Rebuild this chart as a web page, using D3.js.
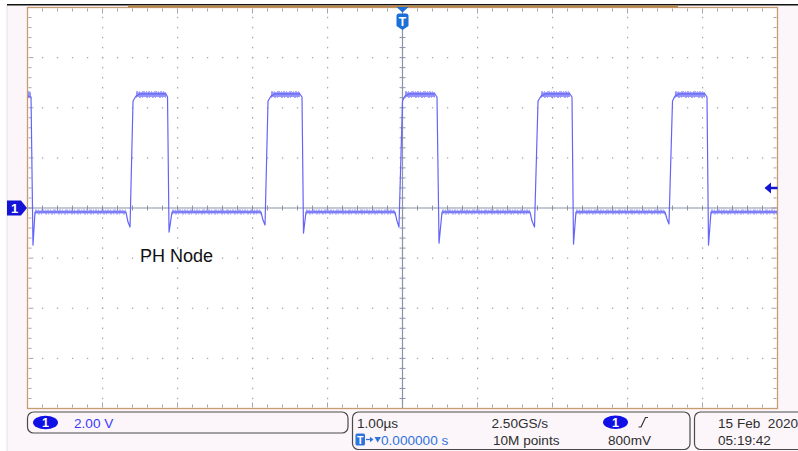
<!DOCTYPE html>
<html>
<head>
<meta charset="utf-8">
<script src="https://cdn.jsdelivr.net/npm/d3@7/dist/d3.min.js"></script>
<style>
  html, body { margin: 0; padding: 0; background: #ffffff; }
  svg { display: block; }
  text { font-family: "Liberation Sans", Arial, sans-serif; white-space: pre; }
</style>
</head>
<body>
<svg id="scope" width="798" height="451"></svg>
<script>
// ---- Channel 1 (PH node) trace: time in µs, voltage in V ----
const traceT = [
  -4.993, -4.953, -4.927, -4.900,
  -3.687, -3.660, -3.633, -3.593, -3.553, -3.500, -3.153, -3.133, -3.113, -3.073,
  -1.887, -1.860, -1.833, -1.793, -1.753, -1.700, -1.367, -1.340, -1.320, -1.287,
  -0.100, -0.073, -0.047,  0.000,  0.033,  0.087,  0.433,  0.460,  0.487,  0.527,
   1.700,  1.727,  1.760,  1.807,  1.847,  1.900,  2.233,  2.260,  2.280,  2.313,
   3.500,  3.527,  3.553,  3.600,  3.633,  3.687,  4.033,  4.060,  4.080,  4.113,
   4.993
];
const traceV = [
   4.47,  4.43, -1.48, -0.16,
  -0.16, -0.56, -0.76,  4.27,  4.47,  4.55,  4.55,  4.43, -0.96, -0.16,
  -0.16, -0.48, -0.68,  4.27,  4.47,  4.55,  4.55,  4.43, -1.00, -0.16,
  -0.16, -0.52, -0.76,  4.27,  4.47,  4.55,  4.55,  4.43, -1.40, -0.16,
  -0.16, -0.52, -0.76,  4.27,  4.47,  4.55,  4.55,  4.43, -1.44, -0.16,
  -0.16, -0.44, -0.64,  4.27,  4.47,  4.55,  4.55,  4.43, -1.48, -0.16,
  -0.16
];

// noise envelope of the switch-node plateaus and of the low level
const highStart = [-4.993, -3.553, -1.753, 0.033, 1.847, 3.633];
const highEnd   = [-4.953, -3.153, -1.367, 0.433, 2.233, 4.033];
const highBand  = [4.39, 4.66];
const lowStart  = [-4.900, -3.073, -1.287, 0.527, 2.313, 4.113];
const lowEnd    = [-3.687, -1.887, -0.100, 1.700, 3.500, 4.993];
const lowBand   = [-0.26, -0.06];

// ---- scope settings ----
const timeDiv = 1.0;          // µs/div
const voltDiv = 2.0;          // V/div
const hDivs = 10, vDivs = 8, minorPerDiv = 5;
const triggerLevel = 0.8;     // V

const scaleLabel = ["2.00 V"];
const timebaseLabels = ["1.00µs", "2.50GS/s", "800mV"];
const recordLabels = ["0.000000 s", "10M points"];
const dateLabels = ["15 Feb  2020", "05:19:42"];
const traceName = "PH Node";

const svg = d3.select("#scope");
const W = 798, H = 451;
const gLeft = 27.5, gRight = 777.5, gTop = 7.5, gBottom = 408.5;

const x = d3.scaleLinear().domain([-hDivs / 2 * timeDiv, hDivs / 2 * timeDiv]).range([gLeft, gRight]);
const y = d3.scaleLinear().domain([vDivs / 2 * voltDiv, -vDivs / 2 * voltDiv]).range([gTop, gBottom]);

// page background
svg.append("rect").attr("x", 7).attr("y", 5).attr("width", W - 7).attr("height", H - 5).attr("fill", "#fcf6fb");
svg.append("line").attr("x1", 7).attr("x2", 7).attr("y1", 5).attr("y2", H).attr("stroke", "#e6e0e6").attr("stroke-width", 1);

// graticule area
svg.append("rect").attr("x", gLeft).attr("y", gTop).attr("width", gRight - gLeft).attr("height", gBottom - gTop).attr("fill", "#ffffff");

const grid = svg.append("g");
const dotColor = "#a6a6ae";
const xMinor = d3.range(-hDivs / 2 * minorPerDiv, hDivs / 2 * minorPerDiv + 1).map(i => i * timeDiv / minorPerDiv);
const yMinor = d3.range(-vDivs / 2 * minorPerDiv, vDivs / 2 * minorPerDiv + 1).map(i => i * voltDiv / minorPerDiv);
const xMajor = d3.range(-hDivs / 2 + 1, hDivs / 2).map(i => i * timeDiv).filter(d => d !== 0);
const yMajor = d3.range(-vDivs / 2 + 1, vDivs / 2).map(i => i * voltDiv).filter(d => d !== 0);

// dotted vertical divisions
xMajor.forEach(t => {
  yMinor.slice(1, -1).forEach(v => {
    grid.append("rect").attr("x", x(t) - 0.5).attr("y", y(v) - 0.75).attr("width", 1.2).attr("height", 1.5).attr("fill", dotColor);
  });
});
// dotted horizontal divisions
yMajor.forEach(v => {
  xMinor.slice(1, -1).forEach(t => {
    grid.append("rect").attr("x", x(t) - 0.6).attr("y", y(v) - 0.6).attr("width", 1.3).attr("height", 1.3).attr("fill", dotColor);
  });
});
// edge ticks
xMinor.slice(1, -1).forEach(t => {
  const major = Math.abs(t / timeDiv - Math.round(t / timeDiv)) < 1e-6;
  const len = major ? 5 : 3;
  grid.append("line").attr("x1", x(t)).attr("x2", x(t)).attr("y1", gTop + 1).attr("y2", gTop + 1 + len).attr("stroke", dotColor).attr("stroke-width", 1);
  grid.append("line").attr("x1", x(t)).attr("x2", x(t)).attr("y1", gBottom - 1).attr("y2", gBottom - 1 - len).attr("stroke", dotColor).attr("stroke-width", 1);
});
yMinor.slice(1, -1).forEach(v => {
  const major = Math.abs(v / voltDiv - Math.round(v / voltDiv)) < 1e-6;
  const len = major ? 5 : 3;
  grid.append("line").attr("x1", gLeft + 1).attr("x2", gLeft + 1 + len).attr("y1", y(v)).attr("y2", y(v)).attr("stroke", dotColor).attr("stroke-width", 1);
  grid.append("line").attr("x1", gRight - 1).attr("x2", gRight - 1 - len).attr("y1", y(v)).attr("y2", y(v)).attr("stroke", dotColor).attr("stroke-width", 1);
});

// centre axes with minor ticks
const axisColor = "#8a93a8";
grid.append("line").attr("x1", x(0)).attr("x2", x(0)).attr("y1", gTop).attr("y2", gBottom).attr("stroke", axisColor).attr("stroke-width", 1.2);
grid.append("line").attr("x1", gLeft).attr("x2", gRight).attr("y1", y(0)).attr("y2", y(0)).attr("stroke", axisColor).attr("stroke-width", 1.2);
xMinor.slice(1, -1).forEach(t => {
  grid.append("line").attr("x1", x(t)).attr("x2", x(t)).attr("y1", y(0) - 2.5).attr("y2", y(0) + 2.5).attr("stroke", axisColor).attr("stroke-width", 1);
});
yMinor.slice(1, -1).forEach(v => {
  grid.append("line").attr("x1", x(0) - 3).attr("x2", x(0) + 3).attr("y1", y(v)).attr("y2", y(v)).attr("stroke", axisColor).attr("stroke-width", 1);
});

// graticule frame and record-position bar
svg.append("rect").attr("x", gLeft).attr("y", gTop).attr("width", gRight - gLeft).attr("height", gBottom - gTop)
  .attr("fill", "none").attr("stroke", "#c79c70").attr("stroke-width", 1.3);
svg.append("line").attr("x1", 7).attr("x2", W).attr("y1", 4.8).attr("y2", 4.8).attr("stroke", "#111").attr("stroke-width", 1.6);
svg.append("line").attr("x1", 128).attr("x2", 678).attr("y1", 6.6).attr("y2", 6.6).attr("stroke", "#b7864f").attr("stroke-width", 2);

// ---- trace ----
const pts = traceT.map((t, i) => [t, traceV[i]]);
const traceG = svg.append("g");
const traceColor = "#5252f4";

// persistence band: a solid core with ragged dashed fringes
function band(s, e, lo, hi, coreOpacity) {
  const x0 = x(s), x1 = x(e), yTop = y(hi), yBot = y(lo);
  traceG.append("rect").attr("x", x0).attr("y", yTop + 1).attr("width", x1 - x0)
    .attr("height", Math.max(0.5, yBot - yTop - 2)).attr("fill", traceColor).attr("opacity", coreOpacity);
  traceG.append("line").attr("x1", x0).attr("x2", x1).attr("y1", yTop + 0.5).attr("y2", yTop + 0.5)
    .attr("stroke", traceColor).attr("stroke-width", 1).attr("opacity", 0.55).attr("stroke-dasharray", "2 1 1 2 3 1 1 1");
  traceG.append("line").attr("x1", x0).attr("x2", x1).attr("y1", yBot - 0.5).attr("y2", yBot - 0.5)
    .attr("stroke", traceColor).attr("stroke-width", 1).attr("opacity", 0.5).attr("stroke-dasharray", "1 2 2 1 1 3 2 1");
}
highStart.forEach((s, i) => band(s, highEnd[i], highBand[0], highBand[1], 0.62));
lowStart.forEach((s, i) => band(s, lowEnd[i], lowBand[0], lowBand[1], 0.6));

traceG.append("path").datum(pts)
  .attr("d", d3.line().x(d => x(d[0])).y(d => y(d[1])))
  .attr("fill", "none").attr("stroke", "#6464f8").attr("stroke-width", 1.2).attr("stroke-linejoin", "round");

// trace label
svg.append("text").attr("x", 140).attr("y", 262).attr("font-size", 18).attr("fill", "#111").text(traceName);

// ---- markers ----
const mk = "#1414d6";
// channel 1 ground marker
svg.append("path").attr("d", `M7,${y(0) - 7.5} L21,${y(0) - 7.5} L27,${y(0)} L21,${y(0) + 7.5} L7,${y(0) + 7.5} Z`).attr("fill", mk);
svg.append("text").attr("x", 14.5).attr("y", y(0) + 4.8).attr("text-anchor", "middle").attr("font-size", 13).attr("font-weight", "bold").attr("fill", "#fff").text("1");

// trigger position marker
const tx = x(0), tc = "#1b6fd6";
svg.append("path").attr("d", `M${tx - 6},7 L${tx + 6},7 L${tx},12.5 Z`).attr("fill", tc);
svg.append("path").attr("d", `M${tx - 6},16 Q${tx - 6},13.5 ${tx - 3.5},13.5 L${tx + 3.5},13.5 Q${tx + 6},13.5 ${tx + 6},16 L${tx + 6},26 L${tx},30 L${tx - 6},26 Z`).attr("fill", tc);
svg.append("text").attr("x", tx).attr("y", 25.5).attr("text-anchor", "middle").attr("font-size", 12).attr("font-weight", "bold").attr("fill", "#fff").text("T");

// trigger level arrow
const ty = y(triggerLevel);
svg.append("path").attr("d", `M${gRight - 13},${ty} L${gRight - 6.5},${ty - 5.5} L${gRight - 6.5},${ty - 1.3} L${gRight},${ty - 1.3} L${gRight},${ty + 1.3} L${gRight - 6.5},${ty + 1.3} L${gRight - 6.5},${ty + 5.5} Z`).attr("fill", mk);

// ---- status bar ----
const box = (x0, y0, w, h) => svg.append("rect").attr("x", x0).attr("y", y0).attr("width", w).attr("height", h)
  .attr("rx", 6).attr("fill", "none").attr("stroke", "#4a4a4a").attr("stroke-width", 1.2);
box(27.5, 412, 320.5, 21);
box(352.5, 412, 337.5, 37.5);
box(694.5, 412, 130, 37.5);

const badge = (cx, cy) => {
  svg.append("ellipse").attr("cx", cx).attr("cy", cy).attr("rx", 12.5).attr("ry", 6.8).attr("fill", "#1010e6");
  svg.append("text").attr("x", cx).attr("y", cy + 4.5).attr("text-anchor", "middle").attr("font-size", 12.5).attr("font-weight", "bold").attr("fill", "#fff").text("1");
};
badge(45.5, 422.5);
badge(615.5, 422.2);

const fs = 13.6, txt = "#2e2e2e";
svg.append("text").attr("x", 74).attr("y", 427.5).attr("font-size", fs).attr("fill", "#3a3aff").text(scaleLabel[0]);
svg.append("text").attr("x", 357).attr("y", 427.5).attr("font-size", fs).attr("fill", txt).text(timebaseLabels[0]);
svg.append("text").attr("x", 491.5).attr("y", 427.5).attr("font-size", fs).attr("fill", txt).text(timebaseLabels[1]);
svg.append("text").attr("x", 608).attr("y", 445).attr("font-size", fs).attr("fill", txt).text(timebaseLabels[2]);
svg.append("text").attr("x", 493).attr("y", 445).attr("font-size", fs).attr("fill", txt).text(recordLabels[1]);
svg.append("text").attr("x", 718).attr("y", 427.5).attr("font-size", fs).attr("fill", txt).text(dateLabels[0]);
svg.append("text").attr("x", 718).attr("y", 445).attr("font-size", fs).attr("fill", txt).text(dateLabels[1]);

// rising-edge trigger slope glyph
svg.append("path").attr("d", "M638.5,427 L641,427 L645.5,417.5 L648,417.5").attr("fill", "none").attr("stroke", "#333").attr("stroke-width", 1.2);

// trigger position readout
const bl = "#2f74dc";
svg.append("rect").attr("x", 355.5).attr("y", 433.5).attr("width", 9.5).attr("height", 12).attr("rx", 1.5).attr("fill", bl);
svg.append("text").attr("x", 360.2).attr("y", 443.5).attr("text-anchor", "middle").attr("font-size", 10.5).attr("font-weight", "bold").attr("fill", "#fff").text("T");
svg.append("path").attr("d", "M366,439.5 L371,439.5").attr("stroke", bl).attr("stroke-width", 1.3);
svg.append("path").attr("d", "M373.5,439.5 L370,436.8 L370,442.2 Z").attr("fill", bl);
svg.append("path").attr("d", "M374.5,437 L381,437 L377.7,442.5 Z").attr("fill", bl);
svg.append("text").attr("x", 381).attr("y", 445).attr("font-size", fs).attr("fill", bl).text(recordLabels[0]);
</script>
</body>
</html>
